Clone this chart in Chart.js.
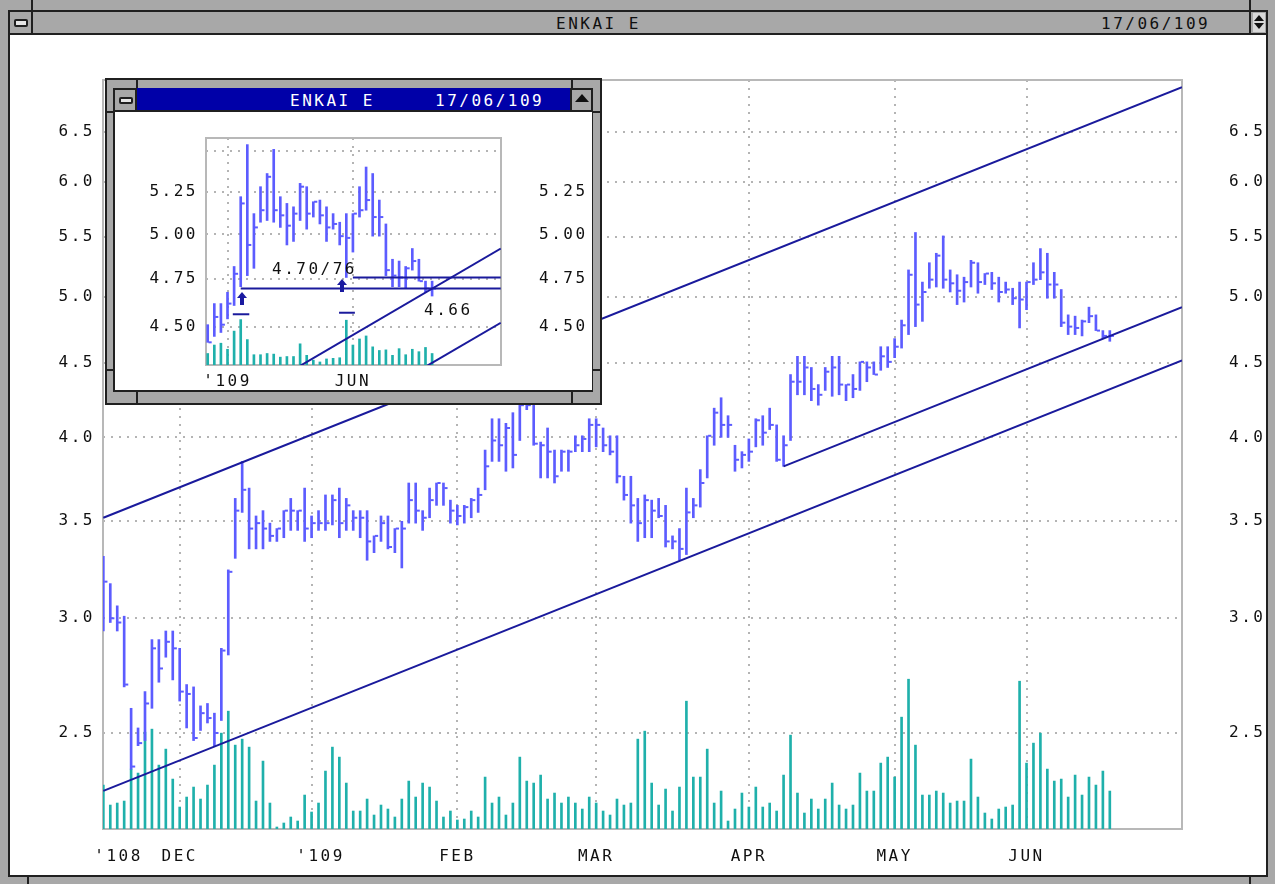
<!DOCTYPE html>
<html>
<head>
<meta charset="utf-8">
<title>ENKAI E</title>
<script src="https://cdn.jsdelivr.net/npm/chart.js@4.4.1/dist/chart.umd.min.js"></script>
<style>
  html, body { margin:0; padding:0; background:#ffffff; }
  body { width:1275px; height:884px; position:relative; overflow:hidden;
         font-family:"DejaVu Sans Mono", monospace; font-size:16px; letter-spacing:2.5px; }
  .a { position:absolute; }
  .g { position:absolute; background:#a8a8a8; }
  .k { position:absolute; background:#202020; }
  .t { position:absolute; line-height:16px; white-space:pre; color:#101010; }
</style>
</head>
<body>
<canvas id="mainChart" class="a" width="1275" height="884" style="left:0;top:0;width:1275px;height:884px"></canvas>

<!-- outer window frame -->
<div class="g" style="left:0;top:0;width:1275px;height:35px"></div>
<div class="k" style="left:8px;top:10px;width:1260px;height:2px"></div>
<div class="k" style="left:0;top:33px;width:1275px;height:2px"></div>
<div class="g" style="left:0;top:0;width:8px;height:884px"></div>
<div class="k" style="left:8px;top:10px;width:2px;height:867px"></div>
<div class="g" style="left:1268px;top:0;width:7px;height:884px"></div>
<div class="k" style="left:1266px;top:10px;width:2px;height:867px"></div>
<div class="g" style="left:0;top:877px;width:1275px;height:7px"></div>
<div class="k" style="left:8px;top:875px;width:1260px;height:2px"></div>
<div class="k" style="left:27px;top:877px;width:2px;height:7px"></div>
<div class="k" style="left:1249px;top:877px;width:2px;height:7px"></div>
<div class="k" style="left:31px;top:0;width:2px;height:35px"></div>
<div class="k" style="left:1249px;top:0;width:2px;height:35px"></div>
<div class="a" style="left:14px;top:19px;width:10px;height:4px;border:2px solid #202020;border-radius:2px;background:#e6e6e6"></div>
<div class="a" style="left:1253px;top:13px;width:12px;height:19px;background:#d8d8d8"></div>
<div class="a" style="left:1254px;top:15px;width:0;height:0;border-left:5px solid transparent;border-right:5px solid transparent;border-bottom:6px solid #101010"></div>
<div class="a" style="left:1254px;top:23px;width:0;height:0;border-left:5px solid transparent;border-right:5px solid transparent;border-top:6px solid #101010"></div>
<div class="t" style="left:556px;top:16px">ENKAI E</div>
<div class="t" style="left:1101px;top:16px">17/06/109</div>

<!-- inset window -->
<div class="k" style="left:105px;top:78px;width:497px;height:327px"></div>
<div class="g" style="left:107px;top:80px;width:493px;height:323px"></div>
<div class="k" style="left:113px;top:88px;width:480px;height:304px"></div>
<div class="a" style="left:115px;top:112px;width:477px;height:278px;background:#ffffff"></div>
<div class="a" style="left:137px;top:88px;width:433px;height:22px;background:#0000a8"></div>
<div class="g" style="left:115px;top:90px;width:20px;height:20px"></div>
<div class="g" style="left:572px;top:90px;width:19px;height:20px"></div>
<div class="k" style="left:136px;top:80px;width:2px;height:8px"></div>
<div class="k" style="left:571px;top:80px;width:2px;height:8px"></div>
<div class="k" style="left:136px;top:392px;width:2px;height:11px"></div>
<div class="k" style="left:571px;top:392px;width:2px;height:11px"></div>
<div class="k" style="left:107px;top:111px;width:6px;height:2px"></div>
<div class="k" style="left:593px;top:111px;width:7px;height:2px"></div>
<div class="k" style="left:107px;top:369px;width:6px;height:2px"></div>
<div class="k" style="left:593px;top:369px;width:7px;height:2px"></div>
<div class="a" style="left:119px;top:97px;width:10px;height:3px;border:2px solid #202020;border-radius:2px;background:#e6e6e6"></div>
<div class="a" style="left:575px;top:94px;width:0;height:0;border-left:7px solid transparent;border-right:7px solid transparent;border-bottom:8px solid #101010"></div>
<div class="t" style="left:290px;top:93px;color:#ffffff">ENKAI E</div>
<div class="t" style="left:435px;top:93px;color:#ffffff">17/06/109</div>

<canvas id="insetChart" class="a" width="477" height="278" style="left:115px;top:112px;width:477px;height:278px"></canvas>

<!-- inset annotations -->
<div class="t" style="left:272px;top:261px">4.70/76</div>
<div class="t" style="left:424px;top:302px">4.66</div>
<div class="a" style="left:237px;top:292px;width:0;height:0;border-left:5px solid transparent;border-right:5px solid transparent;border-bottom:6px solid #1a1aa0"></div>
<div class="a" style="left:240px;top:297px;width:4px;height:8px;background:#1a1aa0"></div>
<div class="a" style="left:337px;top:279px;width:0;height:0;border-left:5px solid transparent;border-right:5px solid transparent;border-bottom:6px solid #1a1aa0"></div>
<div class="a" style="left:340px;top:284px;width:4px;height:8px;background:#1a1aa0"></div>

<script>
// ---------------- data ----------------
const high = [3.31,3.17,3.06,3.01,2.60,2.52,2.67,2.90,2.90,2.94,
  2.94,2.86,2.70,2.69,2.61,2.62,2.58,2.86,3.24,3.63,
  3.85,3.69,3.53,3.56,3.49,3.46,3.56,3.63,3.56,3.69,
  3.53,3.56,3.65,3.65,3.69,3.63,3.56,3.56,3.56,3.42,
  3.53,3.53,3.46,3.50,3.72,3.72,3.56,3.69,3.72,3.72,
  3.62,3.59,3.59,3.63,3.69,3.92,4.12,4.12,4.09,4.16,
  4.23,4.28,4.25,3.97,4.06,3.92,3.92,3.92,4.01,4.01,
  4.12,4.12,4.06,4.01,4.01,3.76,3.76,3.63,3.65,3.62,
  3.63,3.59,3.42,3.46,3.69,3.63,3.80,4.01,4.19,4.26,
  4.14,3.95,3.91,3.99,4.12,4.14,4.19,4.08,4.01,4.42,
  4.55,4.55,4.47,4.35,4.47,4.55,4.55,4.35,4.42,4.51,
  4.51,4.51,4.62,4.62,4.68,4.82,5.22,5.54,5.12,5.28,
  5.36,5.51,5.22,5.18,5.16,5.30,5.28,5.19,5.20,5.16,
  5.12,5.07,5.12,5.12,5.28,5.40,5.36,5.20,5.06,4.86,
  4.85,4.82,4.92,4.86,4.74,4.74];
const low = [2.94,2.98,2.94,2.69,2.36,2.45,2.47,2.60,2.71,2.82,
  2.72,2.63,2.52,2.47,2.51,2.54,2.45,2.55,2.83,3.30,
  3.55,3.35,3.35,3.35,3.39,3.39,3.41,3.45,3.45,3.39,
  3.41,3.45,3.45,3.48,3.41,3.45,3.45,3.41,3.29,3.33,
  3.39,3.35,3.33,3.25,3.49,3.49,3.45,3.52,3.59,3.59,
  3.49,3.48,3.49,3.52,3.55,3.68,3.85,3.85,3.79,3.81,
  3.98,4.18,3.95,3.75,3.75,3.72,3.79,3.79,3.91,3.91,
  3.91,3.94,3.91,3.89,3.72,3.62,3.49,3.39,3.41,3.41,
  3.52,3.36,3.35,3.29,3.32,3.52,3.58,3.75,3.95,4.00,
  4.00,3.79,3.81,3.85,3.94,3.95,4.05,3.85,3.82,3.98,
  4.28,4.28,4.24,4.21,4.31,4.27,4.28,4.24,4.26,4.31,
  4.37,4.42,4.45,4.47,4.54,4.61,4.71,4.77,4.81,5.07,
  5.08,5.07,5.04,4.94,4.96,5.08,5.03,5.10,5.06,4.96,
  5.03,4.94,4.76,4.90,5.10,5.14,4.99,4.99,4.77,4.71,
  4.71,4.70,4.80,4.74,4.68,4.66];
const close = [3.18,3.00,2.98,2.70,2.37,2.46,2.62,2.86,2.77,2.89,
  2.86,2.67,2.66,2.48,2.58,2.56,2.50,2.85,3.23,3.56,
  3.68,3.46,3.49,3.46,3.42,3.46,3.56,3.56,3.56,3.46,
  3.49,3.49,3.49,3.62,3.49,3.59,3.52,3.52,3.39,3.42,
  3.49,3.36,3.46,3.46,3.62,3.56,3.52,3.62,3.72,3.69,
  3.56,3.53,3.58,3.62,3.65,3.82,3.98,3.95,4.06,3.89,
  4.21,4.21,3.96,3.95,3.91,3.76,3.91,3.91,3.95,3.99,
  4.08,4.08,3.95,3.91,3.76,3.65,3.59,3.49,3.62,3.56,
  3.53,3.39,3.39,3.35,3.55,3.59,3.72,4.01,4.16,4.08,
  4.08,3.86,3.89,3.91,4.11,4.03,4.08,3.86,3.95,4.37,
  4.37,4.47,4.32,4.28,4.44,4.47,4.35,4.35,4.32,4.51,
  4.47,4.42,4.55,4.51,4.62,4.78,5.18,4.94,5.04,5.14,
  5.34,5.14,5.11,5.05,5.12,5.28,5.12,5.19,5.11,5.04,
  5.06,4.99,4.98,5.12,5.14,5.20,5.10,5.10,4.80,4.77,
  4.76,4.81,4.85,4.74,4.70,4.70];
const volume = [44,24,26,28,60,56,97,100,64,80,
  50,22,32,42,30,44,64,96,118,84,
  90,82,28,68,26,2,6,12,8,34,
  17,26,58,82,72,46,18,18,30,14,
  24,20,12,30,48,32,46,42,28,12,
  18,9,10,18,12,52,26,32,14,26,
  72,48,46,54,30,36,26,32,26,20,
  32,26,18,14,30,24,26,90,98,46,
  24,40,18,42,128,52,52,80,26,38,
  8,20,36,22,42,22,26,18,54,94,
  36,16,30,20,30,46,24,20,24,56,
  38,38,66,72,52,112,150,84,34,34,
  38,36,26,28,28,70,32,16,10,20,
  22,24,148,66,86,96,60,48,50,32,
  54,34,52,44,58,38];
const dayIndex = high.map((_, i) => i);

// x-axis: month labels (trading-day index where each label sits) and month grid lines
const monthLabels   = ["'108", "DEC", "'109", "FEB", "MAR", "APR", "MAY", "JUN"];
const monthLabelDay = [2.2, 11, 31.3, 51, 71, 93, 114, 133];
const monthGridDay  = [11, 30, 51, 71, 93, 114, 133];
const priceTicks    = [2.5, 3.0, 3.5, 4.0, 4.5, 5.0, 5.5, 6.0, 6.5];

// inset (zoomed) chart
const insetLabels     = ["'109", "JUN"];
const insetLabelDay   = [114, 133];
const insetPriceTicks = [4.5, 4.75, 5.0, 5.25, 5.5];
const insetTickLabels = ["4.50", "4.75", "5.00", "5.25", ""];

// trend lines [day, price]
const trendUpper  = [{x: 0, y: 3.52}, {x: 155.4, y: 6.98}];
const trendLower  = [{x: 0, y: 2.28}, {x: 155.4, y: 4.52}];
const trendMiddle = [{x: 98, y: 3.82}, {x: 155.4, y: 4.92}];
// inset support lines / marks
const level470 = [{x: 116, y: 4.70}, {x: 155.4, y: 4.70}];
const level476 = [{x: 133, y: 4.76}, {x: 155.4, y: 4.76}];
const markA = [{x: 114.8, y: 4.564}, {x: 117.3, y: 4.564}];
const markB = [{x: 130.9, y: 4.572}, {x: 133.3, y: 4.572}];

// ---------------- styling ----------------
const PRICE = '#5c5cff', VOL = '#1fb0ab', TREND = '#1a1a9c', GRID = '#b4b4b4';
const CLOSE_OFFSET = 0.36;
const FONT = {family: '"DejaVu Sans Mono", monospace', size: 16};

Chart.defaults.font.family = FONT.family;
Chart.defaults.font.size = FONT.size;
Chart.defaults.color = '#101010';

const retro = {
  id: 'retro',
  beforeDraw(chart) { chart.ctx.letterSpacing = '2.5px'; },
  beforeDatasetsDraw(chart) {
    const {ctx, chartArea: a} = chart;
    ctx.save();
    ctx.strokeStyle = '#b8b8b8';
    ctx.lineWidth = 2;
    ctx.strokeRect(a.left, a.top, a.right - a.left, a.bottom - a.top);
    ctx.restore();
  }
};

function lineDs(data) {
  return {type: 'line', data, borderColor: TREND, borderWidth: 2, pointRadius: 0,
          tension: 0, yAxisID: 'y', xAxisID: 'x', order: 0};
}

function priceDatasets(extra) {
  return [
    {type: 'bar', data: dayIndex.map(i => ({x: i, y: volume[i]})), backgroundColor: VOL,
     barThickness: 2, grouped: false, yAxisID: 'yv', xAxisID: 'x', order: 4},
    {type: 'bar', data: dayIndex.map(i => ({x: i, y: [low[i], high[i]]})), backgroundColor: PRICE,
     barThickness: 2, grouped: false, yAxisID: 'y', xAxisID: 'x', order: 2},
    {type: 'scatter', data: dayIndex.map(i => ({x: i + CLOSE_OFFSET, y: close[i]})),
     pointStyle: 'line', pointRadius: 1.6, pointBorderWidth: 2, pointBorderColor: PRICE,
     borderColor: PRICE, showLine: false, yAxisID: 'y', xAxisID: 'x', order: 1},
    ...extra.map(lineDs)
  ];
}

function makeScales(o) {
  const fixH = (v) => (s) => { s.height = v; s.paddingLeft = 0; s.paddingRight = 0; };
  const fixW = (v) => (s) => { s.width = v; s.paddingTop = 0; s.paddingBottom = 0; };
  return {
    x: {type: 'linear', position: 'bottom', min: o.xmin, max: o.xmax, bounds: 'data', offset: false,
        grid: {display: false, offset: false, drawTicks: false}, border: {display: false},
        afterBuildTicks: s => { s.ticks = o.labelDay.map(v => ({value: v})); },
        ticks: {autoSkip: false, maxRotation: 0, padding: o.xPad, color: '#101010',
                callback: (v, i) => o.labels[i]},
        afterFit: fixH(o.xH)},
    xg: {type: 'linear', position: 'bottom', min: o.xmin, max: o.xmax, bounds: 'data', offset: false,
         grid: {display: true, color: GRID, lineWidth: 2, drawTicks: false, offset: false},
         border: {display: false, dash: [2, 6]},
         afterBuildTicks: s => { s.ticks = o.gridDay.map(v => ({value: v})); },
         ticks: {display: false}, afterFit: fixH(0)},
    y: {type: 'logarithmic', position: 'left', min: o.ymin, max: o.ymax, bounds: 'data',
        grid: {display: true, color: GRID, lineWidth: 2, drawTicks: false},
        border: {display: false, dash: [2, 6]},
        afterBuildTicks: s => { s.ticks = o.yTicks.map(v => ({value: v})); },
        ticks: {padding: o.lPad, color: '#101010', callback: (v, i) => o.yLabels[i]},
        afterFit: fixW(o.lW)},
    y2: {type: 'logarithmic', position: 'right', min: o.ymin, max: o.ymax, bounds: 'data',
         grid: {display: false, drawTicks: false}, border: {display: false},
         afterBuildTicks: s => { s.ticks = o.yTicks.map(v => ({value: v})); },
         ticks: {padding: o.rPad, color: '#101010', callback: (v, i) => o.yLabels[i]},
         afterFit: fixW(o.rW)},
    yv: {type: 'linear', display: false, min: 0, max: 750}
  };
}

new Chart(document.getElementById('mainChart'), {
  data: {datasets: priceDatasets([trendUpper, trendLower, trendMiddle])},
  options: {
    responsive: false, animation: false, devicePixelRatio: 1, events: [],
    layout: {padding: {top: 80, left: 0, right: 0, bottom: 0}},
    plugins: {legend: {display: false}, tooltip: {enabled: false}},
    scales: makeScales({
      xmin: -0.05, xmax: 155.4, labelDay: monthLabelDay, labels: monthLabels, gridDay: monthGridDay,
      xPad: 18, xH: 55, ymin: 2.146, ymax: 7.06, yTicks: priceTicks,
      yLabels: priceTicks.map(v => v.toFixed(1)), lPad: 8, lW: 103, rPad: 47, rW: 93
    })
  },
  plugins: [retro]
});

new Chart(document.getElementById('insetChart'), {
  data: {datasets: priceDatasets([trendLower, trendMiddle, level470, level476, markA, markB])},
  options: {
    responsive: false, animation: false, devicePixelRatio: 1, events: [],
    layout: {padding: {top: 26, left: 0, right: 0, bottom: 0}},
    plugins: {legend: {display: false}, tooltip: {enabled: false}},
    scales: makeScales({
      xmin: 110.74, xmax: 155.44, labelDay: insetLabelDay, labels: insetLabels, gridDay: insetLabelDay,
      xPad: 7, xH: 25, ymin: 4.307, ymax: 5.582, yTicks: insetPriceTicks,
      yLabels: insetTickLabels, lPad: 8, lW: 91, rPad: 38, rW: 91
    })
  },
  plugins: [retro]
});
</script>
</body>
</html>
